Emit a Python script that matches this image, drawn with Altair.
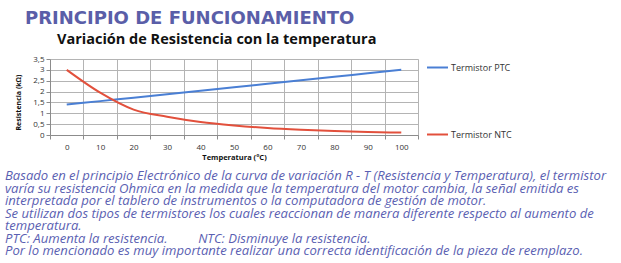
import altair as alt
import pandas as pd

temps = [0, 10, 20, 30, 40, 50, 60, 70, 80, 90, 100]
ptc = [1.40, 1.56, 1.72, 1.88, 2.04, 2.20, 2.36, 2.52, 2.68, 2.84, 3.00]
ntc = [3.00, 1.95, 1.17, 0.84, 0.60, 0.44, 0.32, 0.24, 0.18, 0.14, 0.11]
series = ["Termistor PTC", "Termistor NTC"]
colors = ["#4a7fd4", "#e2503c"]
y_ticks = [0, 0.5, 1, 1.5, 2, 2.5, 3, 3.5]
x_grid = [-5, 5, 15, 25, 35, 45, 55, 65, 75, 85, 95, 105]

header = "PRINCIPIO DE FUNCIONAMIENTO"
chart_title = "Variación de Resistencia con la temperatura"
body = [
    "Basado en el principio Electrónico de la curva de variación R - T (Resistencia y Temperatura), el termistor",
    "varía su resistencia Ohmica en la medida que la temperatura del motor cambia, la señal emitida es",
    "interpretada por el tablero de instrumentos o la computadora de gestión de motor.",
    "Se utilizan dos tipos de termistores los cuales reaccionan de manera diferente respecto al aumento de",
    "temperatura.",
    "PTC: Aumenta la resistencia." + "\u00a0" * 9 + "NTC: Disminuye la resistencia.",
    "Por lo mencionado es muy importante realizar una correcta identificación de la pieza de reemplazo.",
]

df = pd.DataFrame({
    "Temperatura": temps * 2,
    "Resistencia": ptc + ntc,
    "Serie": [series[0]] * len(temps) + [series[1]] * len(temps),
})

xscale = alt.Scale(domain=[-5, 105], nice=False, zero=False)
yscale = alt.Scale(domain=[0, 3.5], nice=False)

lines = alt.Chart(df).mark_line(strokeWidth=2, interpolate="monotone").encode(
    x=alt.X("Temperatura:Q", scale=xscale,
            axis=alt.Axis(values=x_grid, grid=True, ticks=True, tickSize=4,
                          domain=True, gridColor="#b4b4b4", tickColor="#8c8c8c",
                          domainColor="#8c8c8c", labelOverlap=False,
                          labelExpr="datum.value > 100 ? '' : format(datum.value + 5, 'd')",
                          labelOffset=16.7, labelAlign="center",
                          labelFont="Open Sans", labelFontSize=8, labelColor="#333333",
                          labelPadding=4,
                          title="Temperatura (°C)", titleFont="Open Sans", titleFontSize=7.5,
                          titleFontWeight="bold", titleColor="#111111", titlePadding=2)),
    y=alt.Y("Resistencia:Q", scale=yscale,
            axis=alt.Axis(values=y_ticks, grid=True, gridColor="#b4b4b4", tickSize=4,
                          tickColor="#8c8c8c", domainColor="#8c8c8c", labelOverlap=False,
                          labelExpr="replace(format(datum.value, '.1~f'), '.', ',')",
                          labelFont="Open Sans", labelFontSize=8, labelColor="#333333",
                          labelPadding=2,
                          title="Resistencia (kΩ)", titleFont="Open Sans", titleFontSize=7,
                          titleFontWeight="bold", titleColor="#111111",
                          titleX=-29, titleY=43, titleAngle=-90)),
    color=alt.Color("Serie:N", scale=alt.Scale(domain=series, range=colors),
                    legend=alt.Legend(orient="none", legendX=376, legendY=-3, title=None,
                                      symbolType="stroke", symbolStrokeWidth=2, symbolSize=440,
                                      labelFont="Open Sans", labelFontSize=9, labelColor="#333333",
                                      labelOffset=2, rowPadding=50)),
)

def txt(s, x, y, **kw):
    return alt.Chart(pd.DataFrame({"t": [0]})).mark_text(align="left", **kw).encode(
        x=alt.value(x), y=alt.value(y), text=alt.value(s))

head = txt(header, -25, -40, baseline="middle", font="DejaVu Sans", fontSize=18,
           fontWeight="bold", color="#5a5ea8")
ctitle = txt(chart_title, 7, -15, baseline="alphabetic", font="Open Sans", fontSize=14.5,
             fontWeight="bold", color="#111111")
bodytext = txt(body, -45, 121, baseline="alphabetic", font="Open Sans", fontSize=13.1,
               fontStyle="italic", color="#5b5fb2", lineHeight=12.5)

chart = alt.layer(lines, head, ctitle, bodytext).properties(
    width=368, height=76,
    autosize=alt.AutoSizeParams(type="none"),
    padding={"left": 50, "top": 59, "right": 203, "bottom": 128},
).configure_view(stroke=None).configure(background="white")

chart.save("out.html", embed_options={"renderer": "svg", "actions": False})
